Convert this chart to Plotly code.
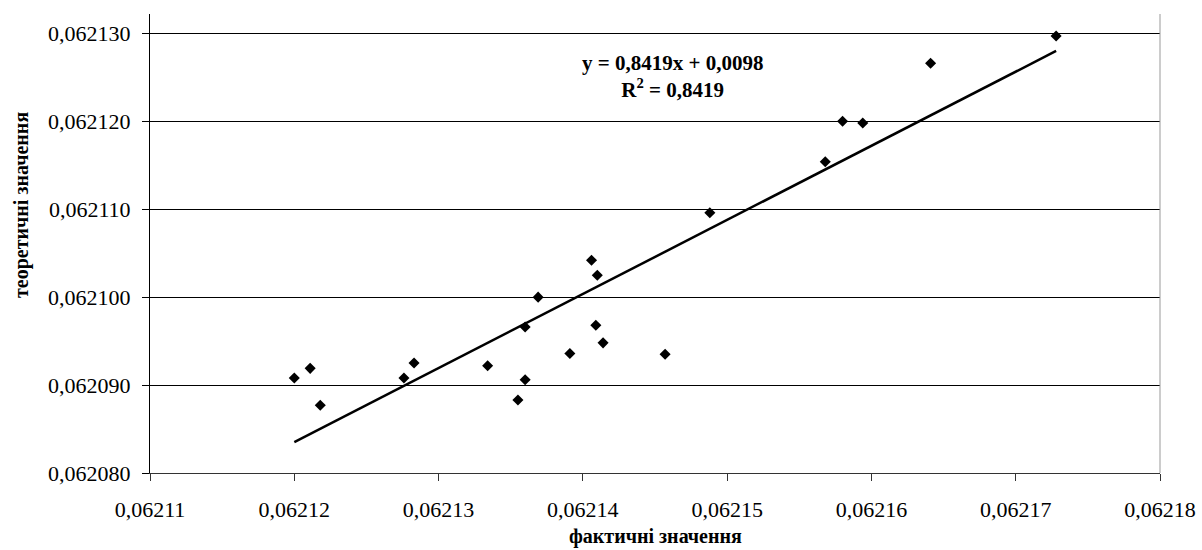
import plotly.graph_objects as go

# Data (фактичні vs теоретичні значення)
x_fact = [0.0621200, 0.0621211, 0.0621218, 0.0621276, 0.0621283, 0.0621334,
          0.0621355, 0.0621360, 0.0621360, 0.0621369, 0.0621391, 0.0621406,
          0.0621409, 0.0621410, 0.0621414, 0.0621457, 0.0621488, 0.0621568,
          0.0621580, 0.0621594, 0.0621641, 0.0621728]
y_theor = [0.0620908, 0.0620919, 0.0620877, 0.0620908, 0.0620925, 0.0620922,
           0.0620883, 0.0620906, 0.0620966, 0.0621000, 0.0620936, 0.0621042,
           0.0620968, 0.0621025, 0.0620948, 0.0620935, 0.0621096, 0.0621154,
           0.0621200, 0.0621198, 0.0621266, 0.0621297]

# Linear trend line end points (as drawn)
trend_x = [0.0621200, 0.0621728]
trend_y = [0.0620835, 0.0621280]

x_ticks = [0.06211, 0.06212, 0.06213, 0.06214, 0.06215, 0.06216, 0.06217, 0.06218]
y_ticks = [0.062080, 0.062090, 0.062100, 0.062110, 0.062120, 0.062130]

eq_text = "y = 0,8419x + 0,0098"
r2_text = "R<sup>2</sup> = 0,8419"
x_title = "фактичні значення"
y_title = "теоретичні значення"

FONT = "Liberation Serif, Times New Roman, serif"

fig = go.Figure()
fig.add_trace(go.Scatter(x=trend_x, y=trend_y, mode="lines",
                         line=dict(color="black", width=2.5),
                         showlegend=False, hoverinfo="skip"))
fig.add_trace(go.Scatter(x=x_fact, y=y_theor, mode="markers",
                         marker=dict(symbol="diamond", size=8.5, color="black"),
                         showlegend=False))

fig.add_annotation(x=0.0621462, y=0.0621251, xref="x", yref="y",
                   text="<b>" + eq_text + "</b><br><b>" + r2_text + "</b>",
                   showarrow=False, align="center",
                   font=dict(family=FONT, size=21, color="black"))
fig.add_annotation(x=0.5, y=-0.1394, xref="paper", yref="paper",
                   text="<b>" + x_title + "</b>", showarrow=False,
                   xanchor="center", yanchor="middle",
                   font=dict(family=FONT, size=20, color="black"))
fig.add_annotation(x=-0.1267, y=0.584, xref="paper", yref="paper",
                   text="<b>" + y_title + "</b>", showarrow=False,
                   textangle=-90, xanchor="center", yanchor="middle",
                   font=dict(family=FONT, size=20, color="black"))

fig.update_layout(
    width=1202, height=550,
    margin=dict(l=150, r=42, t=14, b=77, autoexpand=False),
    paper_bgcolor="white", plot_bgcolor="white",
    separators=", ",
    font=dict(family=FONT, color="black"),
    xaxis=dict(range=[0.06211, 0.06218], tickvals=x_ticks, tickformat=".5f",
               showgrid=False, zeroline=False, automargin=False,
               showline=True, linecolor="#333", linewidth=1, mirror=False,
               ticks="outside", ticklen=7, tickcolor="#333",
               ticklabelstandoff=10,
               tickfont=dict(family=FONT, size=22, color="black")),
    yaxis=dict(range=[0.06208, 0.0621322], tickvals=y_ticks, tickformat=".6f",
               showgrid=True, gridcolor="black", gridwidth=1, zeroline=False,
               automargin=False,
               showline=True, linecolor="black", linewidth=1,
               ticks="outside", ticklen=7, tickcolor="black",
               ticklabelstandoff=7,
               tickfont=dict(family=FONT, size=22, color="black")),
)
# right border of plot area
fig.add_shape(type="line", xref="paper", yref="paper", x0=1, x1=1, y0=0, y1=1,
              line=dict(color="#999", width=1))

fig.write_html("out.html")
